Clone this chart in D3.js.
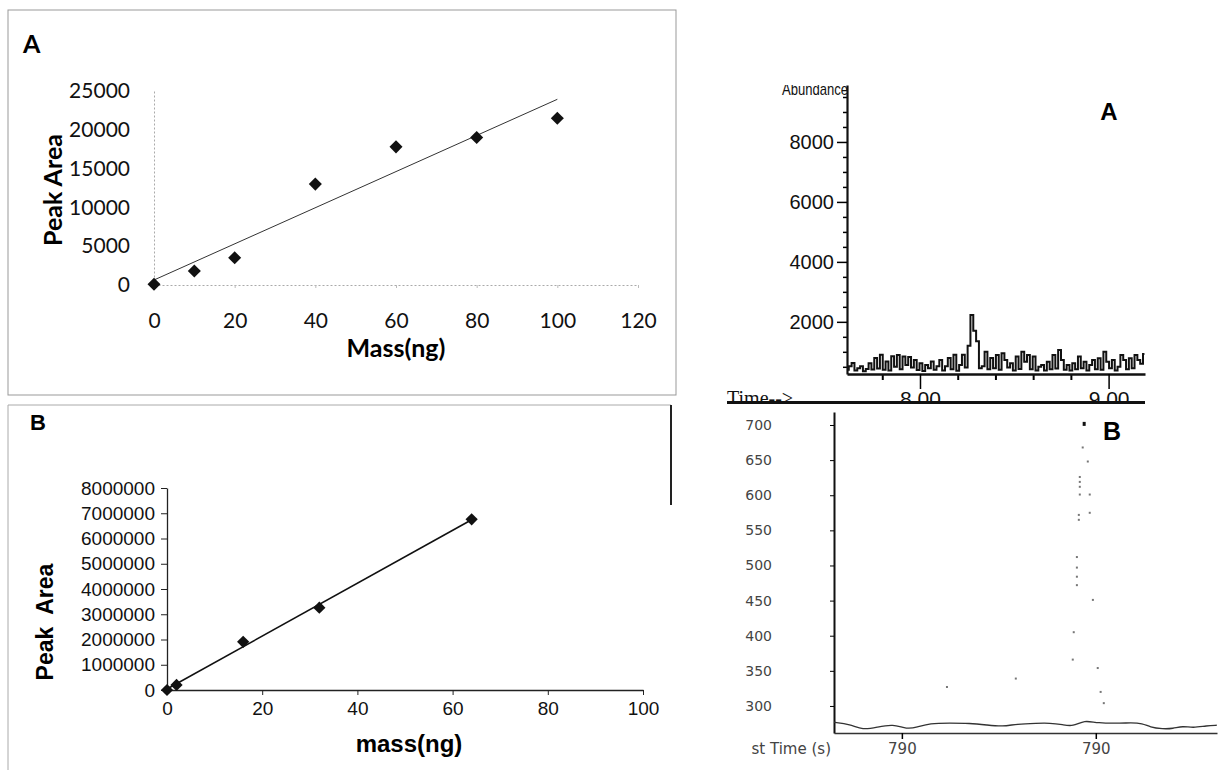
<!DOCTYPE html>
<html>
<head>
<meta charset="utf-8">
<script src="https://cdn.jsdelivr.net/npm/d3@7"></script>
<style>
body { margin: 0; background: #fff; }
svg { display: block; }
</style>
</head>
<body>
<div id="figure"></div>
<script>
/*
 * Calibration curves (left) and chromatograms (right)
 */

// calibration A
var massA = [0, 10, 20, 40, 60, 80, 100];
var areaA = [100, 1800, 3500, 13000, 17800, 19000, 21500];
var massTicksA = [0, 20, 40, 60, 80, 100, 120];
var areaTicksA = [0, 5000, 10000, 15000, 20000, 25000];

// calibration B
var massB = [0, 2, 16, 32, 64];
var areaB = [0, 200000, 1910000, 3260000, 6760000];
var massTicksB = [0, 20, 40, 60, 80, 100];
var areaTicksB = [0, 1000000, 2000000, 3000000, 4000000, 5000000, 6000000, 7000000, 8000000];

// chromatogram A, one abundance per scan
var scanStartA = 7.615;
var scanStepA = 0.015;
var abundanceA = [
    400, 520, 630, 380, 450, 520, 350, 430, 620, 410,
    790, 440, 900, 400, 680, 380, 850, 500, 890, 420,
    840, 560, 830, 480, 730, 390, 620, 360, 560, 450,
    680, 400, 520, 730, 380, 520, 790, 420, 900, 370,
    560, 900, 480, 1200, 2230, 1700, 1350, 450, 520, 1000,
    420, 790, 450, 890, 400, 950, 730, 480, 620, 380,
    840, 430, 1000, 670, 890, 420, 840, 380, 500, 560,
    380, 670, 420, 890, 440, 1060, 730, 400, 560, 380,
    620, 420, 840, 450, 670, 380, 560, 727, 420, 784,
    400, 1000, 670, 450, 727, 380, 500, 894, 727, 420,
    784, 450, 894, 727, 600, 930
];
var abundTicksA = [2000, 4000, 6000, 8000];
var timeTicksA = [8, 9];
var timeMinorA = [7.8, 8.2, 8.4, 8.6, 8.8];

// chromatogram B
var baseTimeB = [789.320, 789.386, 789.439, 789.497, 789.563, 789.621, 789.662, 789.715, 789.798,
    789.880, 789.951, 790.016, 790.074, 790.157, 790.210, 790.264, 790.305, 790.354, 790.404,
    790.511, 790.540, 790.594, 790.623, 790.676, 790.718, 790.759, 790.800, 790.858, 790.899];
var baseAbundB = [276.8, 273.9, 265.8, 269.7, 274.4, 266.8, 269.7, 275.4, 275.8,
    275.4, 272.9, 270.5, 274.4, 275.4, 275.8, 273.4, 270.5, 280.1, 275.4,
    275.4, 276.2, 275.4, 269.7, 267.2, 267.7, 271.5, 268.7, 271.9, 272.5];
var peakTimeB = [790.350, 790.346, 790.367, 790.334, 790.334, 790.334, 790.334, 790.375, 790.375,
    790.330, 790.330, 790.322, 790.322, 790.322, 790.322, 790.388, 790.309, 790.305, 790.408,
    790.070, 789.786, 790.420, 790.433];
var peakAbundB = [703, 668, 648, 626, 619, 612, 601, 601, 575,
    572, 565, 512, 497, 484, 472, 451, 405, 366, 354,
    339, 327, 320, 304];
var abundTicksB = [300, 350, 400, 450, 500, 550, 600, 650, 700];
var timeTicksB = [789.6, 790.4];
var timeLabelsB = ['790', '790'];

var width = 1218;
var height = 770;
var sans = '"Liberation Sans", Arial, sans-serif';

var svg = d3.select('#figure')
    .append('svg')
    .attr('width', width)
    .attr('height', height);

svg.append('rect').attr('width', width).attr('height', height).attr('fill', '#fff');

var defs = svg.append('defs');
defs.append('clipPath').attr('id', 'cut-time')
    .append('rect').attr('x', 0).attr('y', 0).attr('width', width).attr('height', 401);
defs.append('clipPath').attr('id', 'cut-top')
    .append('rect').attr('x', 0).attr('y', 85).attr('width', width).attr('height', 300);

function fit(xs, ys) {
    var mx = d3.mean(xs), my = d3.mean(ys);
    var sxy = d3.sum(xs, function (x, i) { return (x - mx) * (ys[i] - my); });
    var sxx = d3.sum(xs, function (x) { return (x - mx) * (x - mx); });
    var slope = sxy / sxx;
    return { slope: slope, icpt: my - slope * mx };
}

function diamonds(g, xs, ys, x, y, size) {
    g.selectAll('.pt')
        .data(xs)
        .enter()
        .append('path')
        .attr('class', 'pt')
        .attr('d', d3.symbol().type(d3.symbolSquare).size(size))
        .attr('fill', '#111')
        .attr('transform', function (d, i) {
            return 'translate(' + x(d) + ',' + y(ys[i]) + ') rotate(45)';
        });
}

/* ---------- calibration A ---------- */
var gA = svg.append('g');
gA.append('rect')
    .attr('x', 8).attr('y', 10).attr('width', 668).attr('height', 385)
    .attr('fill', 'none').attr('stroke', '#999');

var xA = d3.scaleLinear().domain([0, 120]).range([154, 638]);
var yA = d3.scaleLinear().domain([0, 25000]).range([285, 91]);

var axA = gA.append('g')
    .attr('transform', 'translate(0,285)')
    .call(d3.axisBottom(xA).tickValues(massTicksA).tickSize(3).tickPadding(25).tickSizeOuter(0));
var ayA = gA.append('g')
    .attr('transform', 'translate(154,0)')
    .call(d3.axisLeft(yA).tickValues(areaTicksA).tickFormat(d3.format('d')).tickSize(0).tickPadding(24).tickSizeOuter(0));
[axA, ayA].forEach(function (a) {
    a.select('.domain').attr('stroke', '#aaa').attr('stroke-dasharray', '2,2');
    a.selectAll('.tick line').attr('stroke', '#bbb');
    a.selectAll('text').attr('font-family', 'Lato, sans-serif').attr('font-size', 21).attr('fill', '#111');
});

var lineA = fit(massA, areaA);
gA.append('line')
    .attr('x1', xA(0)).attr('y1', yA(lineA.icpt))
    .attr('x2', xA(100)).attr('y2', yA(lineA.icpt + lineA.slope * 100))
    .attr('stroke', '#333').attr('stroke-width', 1);
diamonds(gA, massA, areaA, xA, yA, 85);

gA.append('text').attr('x', 23).attr('y', 53).text('A')
    .attr('font-family', 'Lato, sans-serif').attr('font-weight', 'bold').attr('font-size', 25);
gA.append('text').attr('transform', 'translate(62,190) rotate(-90)').attr('text-anchor', 'middle')
    .text('Peak Area')
    .attr('font-family', 'Lato, sans-serif').attr('font-weight', 'bold').attr('font-size', 25);
gA.append('text').attr('x', 396).attr('y', 357).attr('text-anchor', 'middle')
    .text('Mass(ng)')
    .attr('font-family', 'Lato, sans-serif').attr('font-weight', 'bold').attr('font-size', 25);

/* ---------- calibration B ---------- */
var gB = svg.append('g');
gB.append('path')
    .attr('d', 'M8,770 V405 H671')
    .attr('fill', 'none').attr('stroke', '#aaa');
gB.append('line')
    .attr('x1', 671).attr('y1', 405).attr('x2', 671).attr('y2', 505)
    .attr('stroke', '#222').attr('stroke-width', 2);

var xB = d3.scaleLinear().domain([0, 100]).range([167, 643]);
var yB = d3.scaleLinear().domain([0, 8000000]).range([690, 488]);

var axB = gB.append('g')
    .attr('transform', 'translate(0,690)')
    .call(d3.axisBottom(xB).tickValues(massTicksB).tickSize(5).tickPadding(7).tickSizeOuter(0));
var ayB = gB.append('g')
    .attr('transform', 'translate(167,0)')
    .call(d3.axisLeft(yB).tickValues(areaTicksB).tickFormat(d3.format('d')).tickSize(6).tickPadding(6).tickSizeOuter(0));
[axB, ayB].forEach(function (a) {
    a.select('.domain').attr('stroke', '#222').attr('stroke-width', 1.3);
    a.selectAll('.tick line').attr('stroke', '#222');
    a.selectAll('text').attr('font-family', sans).attr('font-size', 19).attr('fill', '#111');
});

var lineB = fit(massB, areaB);
gB.append('line')
    .attr('x1', xB(0)).attr('y1', yB(lineB.icpt))
    .attr('x2', xB(64)).attr('y2', yB(lineB.icpt + lineB.slope * 64))
    .attr('stroke', '#111').attr('stroke-width', 1.6);
diamonds(gB, massB, areaB, xB, yB, 75);

gB.append('text').attr('x', 30).attr('y', 430).text('B')
    .attr('font-family', sans).attr('font-weight', 'bold').attr('font-size', 22);
gB.append('text').attr('transform', 'translate(53,622) rotate(-90)').attr('text-anchor', 'middle')
    .attr('xml:space', 'preserve')
    .text('Peak  Area')
    .attr('font-family', sans).attr('font-weight', 'bold').attr('font-size', 23);
gB.append('text').attr('x', 409).attr('y', 752).attr('text-anchor', 'middle')
    .text('mass(ng)')
    .attr('font-family', sans).attr('font-weight', 'bold').attr('font-size', 24);

/* ---------- chromatogram A ---------- */
var gC = svg.append('g');
var xC = d3.scaleLinear().domain([7.613, 9.193]).range([847, 1145]);
var yC = d3.scaleLinear().domain([260, 9900]).range([374, 85]);
var abundMinorA = d3.range(500, 10000, 500).filter(function (v) { return v % 2000 !== 0; });

gC.append('g')
    .attr('transform', 'translate(847,0)')
    .call(d3.axisLeft(yC).tickValues(abundMinorA).tickSize(4).tickFormat('').tickSizeOuter(0))
    .call(function (a) { a.select('.domain').remove(); a.selectAll('line').attr('stroke-width', 1.5); });
var ayC = gC.append('g')
    .attr('transform', 'translate(847,0)')
    .call(d3.axisLeft(yC).tickValues(abundTicksA).tickFormat(d3.format('d')).tickSize(10).tickPadding(3).tickSizeOuter(0));
ayC.select('.domain').attr('stroke', '#111').attr('stroke-width', 2.2);
ayC.selectAll('.tick line').attr('stroke-width', 1.5);
ayC.selectAll('text').attr('font-family', sans).attr('font-size', 20).attr('fill', '#111');

var cut = gC.append('g').attr('clip-path', 'url(#cut-time)');
cut.append('g')
    .attr('transform', 'translate(0,374)')
    .call(d3.axisBottom(xC).tickValues(timeMinorA).tickSize(6).tickFormat('').tickSizeOuter(0))
    .call(function (a) { a.select('.domain').remove(); a.selectAll('line').attr('stroke-width', 2); });
var axC = cut.append('g')
    .attr('transform', 'translate(0,374)')
    .call(d3.axisBottom(xC).tickValues(timeTicksA).tickFormat(d3.format('.2f')).tickSize(15).tickPadding(2).tickSizeOuter(0));
axC.select('.domain').attr('stroke', '#111').attr('stroke-width', 2.5);
axC.selectAll('.tick line').attr('stroke-width', 1.5);
axC.selectAll('text').attr('font-family', sans).attr('font-size', 21).attr('fill', '#111');
cut.append('text').attr('x', 727).attr('y', 405).text('Time-->')
    .attr('font-family', '"Liberation Serif", serif').attr('font-size', 20).attr('fill', '#111');

gC.append('path')
    .datum(abundanceA)
    .attr('fill', 'none')
    .attr('stroke', '#111')
    .attr('stroke-width', 2)
    .attr('d', d3.line()
        .curve(d3.curveStep)
        .x(function (d, i) { return xC(scanStartA + i * scanStepA); })
        .y(function (d) { return yC(d); }));

gC.append('line')
    .attr('x1', 727).attr('y1', 402.5).attr('x2', 1145).attr('y2', 402.5)
    .attr('stroke', '#111').attr('stroke-width', 3);

gC.append('text').attr('x', 848).attr('y', 95).attr('text-anchor', 'end')
    .attr('clip-path', 'url(#cut-top)')
    .attr('textLength', 66).attr('lengthAdjust', 'spacingAndGlyphs')
    .text('Abundance')
    .attr('font-family', sans).attr('font-size', 17).attr('fill', '#111');
gC.append('text').attr('x', 1109).attr('y', 120).attr('text-anchor', 'middle').text('A')
    .attr('font-family', sans).attr('font-weight', 'bold').attr('font-size', 24);

/* ---------- chromatogram B ---------- */
var gD = svg.append('g');
var xD = d3.scaleLinear().domain([789.32, 790.9]).range([834, 1217]);
var yD = d3.scaleLinear().domain([261.5, 718.5]).range([733, 412]);

var ayD = gD.append('g')
    .attr('transform', 'translate(834,0)')
    .call(d3.axisLeft(yD).tickValues(abundTicksB).tickSize(4).tickPadding(58).tickSizeOuter(0));
ayD.select('.domain').attr('stroke', '#111').attr('stroke-width', 2);
ayD.selectAll('text').attr('font-family', '"DejaVu Sans", sans-serif').attr('font-size', 14).attr('fill', '#444');

var axD = gD.append('g')
    .attr('transform', 'translate(0,733)')
    .call(d3.axisBottom(xD).tickValues(timeTicksB).tickFormat(function (d, i) { return timeLabelsB[i]; })
        .tickSize(6).tickPadding(4).tickSizeOuter(0));
axD.select('.domain').attr('stroke', '#333').attr('stroke-width', 1.5);
axD.selectAll('.tick line').attr('stroke-width', 1.5);
axD.selectAll('text').attr('font-family', '"DejaVu Sans", sans-serif').attr('font-size', 15).attr('fill', '#444');

gD.append('text').attr('x', 831).attr('y', 754).attr('text-anchor', 'end')
    .text('st Time (s)')
    .attr('font-family', '"DejaVu Sans", sans-serif').attr('font-size', 15).attr('fill', '#444');

gD.append('path')
    .datum(baseTimeB)
    .attr('fill', 'none')
    .attr('stroke', '#333')
    .attr('stroke-width', 1.3)
    .attr('d', d3.line()
        .curve(d3.curveBasis)
        .x(function (d) { return xD(d); })
        .y(function (d, i) { return yD(baseAbundB[i]); }));

gD.selectAll('.dot')
    .data(peakTimeB)
    .enter()
    .append('rect')
    .attr('class', 'dot')
    .attr('x', function (d) { return xD(d) - 1; })
    .attr('y', function (d, i) { return yD(peakAbundB[i]) - 1; })
    .attr('width', function (d, i) { return i === 0 ? 3 : 2; })
    .attr('height', function (d, i) { return i === 0 ? 4 : 2; })
    .attr('fill', function (d, i) { return i === 0 ? '#111' : '#777'; });

gD.append('text').attr('x', 1112).attr('y', 440).attr('text-anchor', 'middle').text('B')
    .attr('font-family', sans).attr('font-weight', 'bold').attr('font-size', 25);
</script>
</body>
</html>
